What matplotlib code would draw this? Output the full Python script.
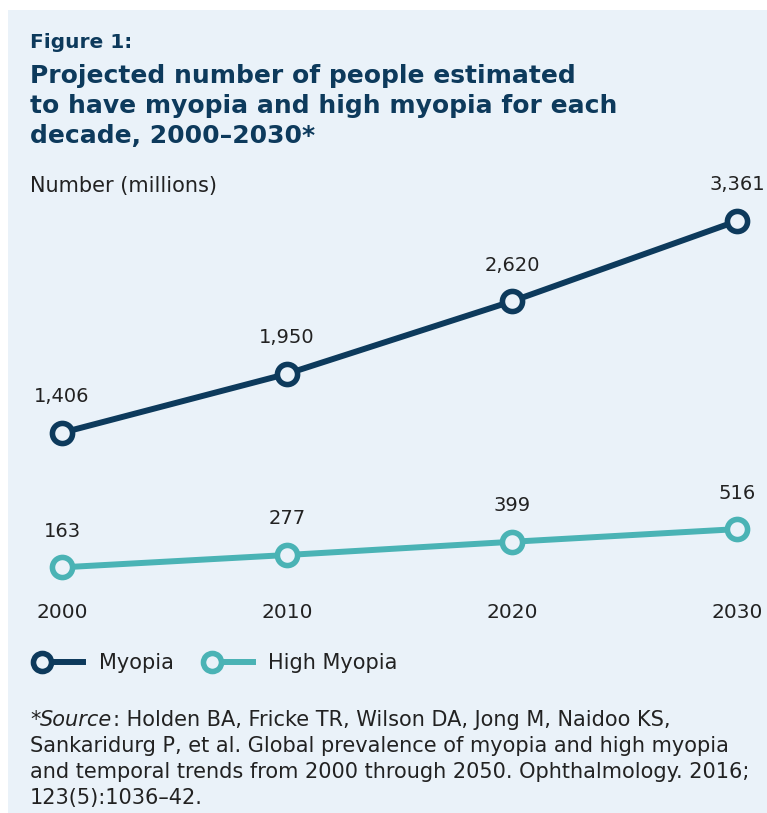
import matplotlib.pyplot as plt
from matplotlib.patches import Rectangle
from matplotlib.lines import Line2D
from matplotlib.legend_handler import HandlerLine2DCompound
import numpy as np

years = [2000, 2010, 2020, 2030]
myopia = [1406, 1950, 2620, 3361]
high_myopia = [163, 277, 399, 516]

navy = "#0d3a5c"
teal = "#4ab3b5"
bg = "#eaf2f9"
txt = "#222222"

plt.rcParams['font.family'] = ['DejaVu Sans']

W, H = 767, 813
fig = plt.figure(figsize=(W / 100, H / 100), dpi=100)
fig.patch.set_facecolor("white")
fig.add_artist(Rectangle((8 / W, 0), 1, 1 - 10 / H, transform=fig.transFigure,
                         facecolor=bg, edgecolor="none", zorder=-10))

# axes placed so 2000 -> x 62px, 2030 -> x 737px, 0 -> y 585px
ppy = 22.5
ax = fig.add_axes([(62 - ppy) / W, 1 - 585 / H, 32 * ppy / W, 400.7 / H])
ax.set_facecolor("none")
ax.set_xlim(1999, 2031)
ax.set_ylim(0, 3700)

for vals, col in [(myopia, navy), (high_myopia, teal)]:
    ax.plot(years, vals, color=col, lw=4.3, marker="o", ms=14.5, mfc=bg,
            mec=col, mew=4, solid_capstyle="round", zorder=3)
    for x, v in zip(years, vals):
        ax.annotate(f"{v:,}", (x, v), xytext=(0, 26), textcoords="offset points",
                    ha="center", va="center", fontsize=14, color=txt)

for s in ax.spines.values():
    s.set_visible(False)
ax.set_yticks([])
ax.set_xticks(years)
ax.tick_params(axis="x", length=0, labelsize=14.5, labelcolor=txt, pad=13)

# titles
fig.text(30 / W, 1 - 42 / H, "Figure 1:", fontsize=14.5, fontweight="bold",
         color=navy, va="center")
fig.text(30 / W, 1 - 106 / H,
         "Projected number of people estimated\nto have myopia and high myopia for each\ndecade, 2000\u20132030*",
         fontsize=18, fontweight="bold", color=navy, va="center", linespacing=1.32)
fig.text(30 / W, 1 - 186 / H, "Number (millions)", fontsize=15, color=txt, va="center")


class LeftMarker(HandlerLine2DCompound):
    def get_xdata(self, legend, xdescent, ydescent, width, height, fontsize):
        xdata = np.array([-xdescent + 0.25 * width, -xdescent + width])
        return xdata, np.array([-xdescent + 0.25 * width])


handles = [Line2D([], [], color=navy, lw=4.3, marker="o", ms=13, mfc=bg, mec=navy, mew=4),
           Line2D([], [], color=teal, lw=4.3, marker="o", ms=13, mfc=bg, mec=teal, mew=4)]
fig.legend(handles, ["Myopia", "High Myopia"], loc="center left",
           bbox_to_anchor=(10 / W, 1 - 663 / H), ncol=2, frameon=False,
           fontsize=15, handlelength=2.6, handletextpad=0.75, columnspacing=1.2,
           handler_map={Line2D: LeftMarker(numpoints=1)}, labelcolor=txt)

# source note
fs = 15
y0 = 1 - 720 / H
t1 = fig.text(30 / W, y0, "*", fontsize=fs, color=txt, va="center")
t2 = ax.annotate("Source", xy=(1, 0), xycoords=t1, va="bottom", ha="left",
                 fontsize=fs, style="italic", color=txt, annotation_clip=False)
t3 = ax.annotate(": Holden BA, Fricke TR, Wilson DA, Jong M, Naidoo KS,",
                 xy=(1, 0), xycoords=t2, va="bottom", ha="left",
                 fontsize=fs, color=txt, annotation_clip=False)
rest = ["Sankaridurg P, et al. Global prevalence of myopia and high myopia",
        "and temporal trends from 2000 through 2050. Ophthalmology. 2016;",
        "123(5):1036\u201342."]
for i, line in enumerate(rest):
    fig.text(30 / W, y0 - (i + 1) * 26 / H, line, fontsize=fs, color=txt, va="center")

fig.savefig("out.png", dpi=100, facecolor=fig.get_facecolor())
